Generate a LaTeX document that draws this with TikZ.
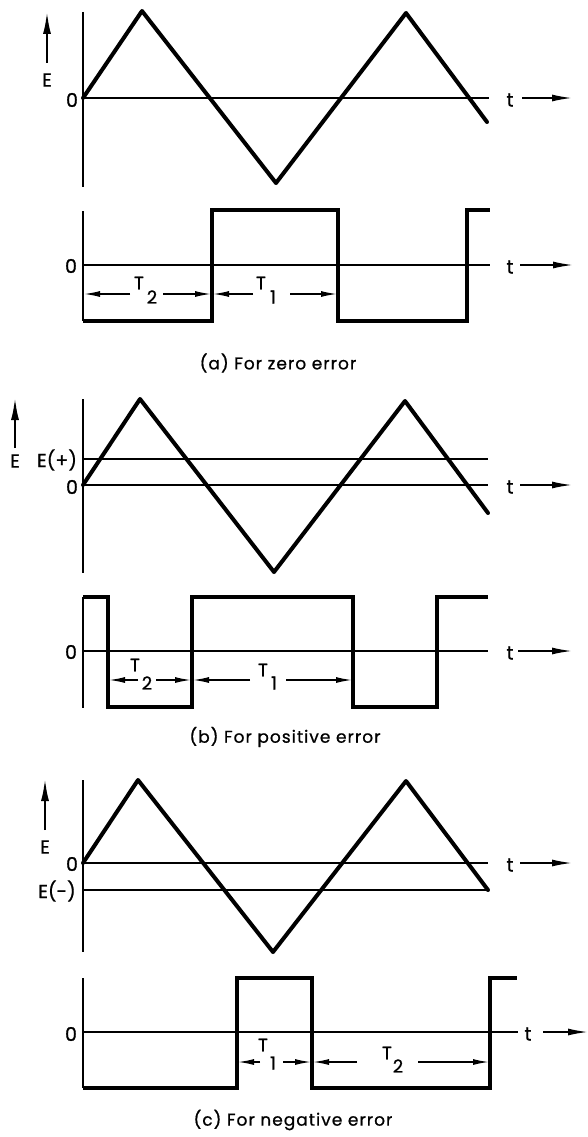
\documentclass[tikz,border=0pt]{standalone}
\usepackage{fontspec}
\setmainfont{Poppins}[FakeBold=0.8]
\usetikzlibrary{arrows.meta}
\begin{document}
\begin{tikzpicture}[x=1pt,y=-1pt,
  tri/.style={line width=4pt,line join=round,line cap=round},
  sq/.style={line width=3.2pt,line join=miter},
  axisline/.style={line width=2pt},
  refline/.style={line width=1.8pt},
  earrow/.style={line width=2pt,-{Latex[length=22pt,width=8pt]}},
  tarrow/.style={line width=1.6pt,-{Latex[length=20pt,width=7pt]}},
  dimarrow/.style={line width=1.4pt,-{Latex[length=16pt,width=6pt]}},
  lbl/.style={font=\fontsize{19}{19}\selectfont,inner sep=0pt},
  tlbl/.style={font=\fontsize{18}{18}\selectfont,inner sep=0pt},
  captext/.style={font=\fontsize{17}{17}\selectfont\addfontfeature{LetterSpace=6},inner sep=0pt}]
\useasboundingbox (0,0) rectangle (588,1137);

% ================= (a) =================
\draw[axisline] (83,12) -- (83,187);
\draw[refline] (83,98) -- (489,98);
\draw[tri] (83,98) -- (142,11) -- (276,183) -- (406,13) -- (487,122);
\node[lbl] (aE) at (47,80) {E};
\coordinate (aEb) at (47,63); \coordinate (aEt) at (47,12);
\draw[earrow] (aEb) -- (aEt);
\node[lbl] (a0) at (72,100) {0};
\node[lbl] (at) at (510,100) {t};
\coordinate (atb) at (522,98); \coordinate (ate) at (572,98);
\draw[tarrow] (atb) -- (ate);

\draw[axisline] (83,211) -- (83,321);
\draw[refline] (83,265) -- (490,265);
\draw[sq] (83,321) -- (212,321) -- (212,210) -- (338,210) -- (338,321) -- (467,321) -- (467,210) -- (490,210);
\node[lbl] (a0s) at (71,266) {0};
\node[lbl] (ats) at (510,267) {t};
\coordinate (atsb) at (520,265); \coordinate (atse) at (573,265);
\draw[tarrow] (atsb) -- (atse);
% dimension arrows
\node[tlbl] (aT2) at (139,283) {T};
\node[tlbl] (aT2n) at (152,297) {2};
\node[tlbl] (aT1) at (261,283) {T};
\node[tlbl] (aT1n) at (273,297) {1};
\coordinate (a1s) at (130,294); \coordinate (a1e) at (84,294);
\coordinate (a2s) at (163,294); \coordinate (a2e) at (211,294);
\coordinate (a3s) at (253,294); \coordinate (a3e) at (213,294);
\coordinate (a4s) at (290,294); \coordinate (a4e) at (337,294);
\draw[dimarrow] (a1s) -- (a1e);
\draw[dimarrow] (a2s) -- (a2e);
\draw[dimarrow] (a3s) -- (a3e);
\draw[dimarrow] (a4s) -- (a4e);
\node[captext] (acap) at (278,363) {(a) For zero error};

% ================= (b) =================
\draw[axisline] (83,399) -- (83,573);
\draw[refline] (83,459) -- (488,459);
\draw[refline] (83,485) -- (488,485);
\draw[tri] (83,485) -- (140,399) -- (274,572) -- (405,401) -- (488,513);
\node[lbl] (bE) at (15,461) {E};
\coordinate (bEb) at (15,448); \coordinate (bEt) at (15,398);
\draw[earrow] (bEb) -- (bEt);
\node[lbl] (bEp) at (57,460) {E(+)};
\node[lbl] (b0) at (72,487) {0};
\node[lbl] (bt) at (510,487) {t};
\coordinate (btb) at (520,485); \coordinate (bte) at (572,485);
\draw[tarrow] (btb) -- (bte);

\draw[axisline] (83,597) -- (83,708);
\draw[refline] (83,651) -- (488,651);
\draw[sq] (83,597) -- (108,597) -- (108,707) -- (192,707) -- (192,597) -- (353,597) -- (353,707) -- (437,707) -- (437,597) -- (488,597);
\node[lbl] (b0s) at (71,652) {0};
\node[lbl] (bts) at (510,653) {t};
\coordinate (btsb) at (518,651); \coordinate (btse) at (572,651);
\draw[tarrow] (btsb) -- (btse);
\node[tlbl] (bT2) at (135,665) {T};
\node[tlbl] (bT2n) at (147,683) {2};
\node[tlbl] (bT1) at (263,670) {T};
\node[tlbl] (bT1n) at (274,683) {1};
\coordinate (b1s) at (138,680); \coordinate (b1e) at (109,680);
\coordinate (b2s) at (156,680); \coordinate (b2e) at (191,680);
\coordinate (b3s) at (250,680); \coordinate (b3e) at (193,680);
\coordinate (b4s) at (286,680); \coordinate (b4e) at (352,680);
\draw[dimarrow] (b1s) -- (b1e);
\draw[dimarrow] (b2s) -- (b2e);
\draw[dimarrow] (b3s) -- (b3e);
\draw[dimarrow] (b4s) -- (b4e);
\node[captext] (bcap) at (285,737) {(b) For positive error};

% ================= (c) =================
\draw[axisline] (83,780) -- (83,952);
\draw[refline] (83,863) -- (488,863);
\draw[refline] (83,890) -- (488,890);
\draw[tri] (83,863) -- (138,780) -- (273,952) -- (406,781) -- (488,890);
\node[lbl] (cE) at (45,847) {E};
\coordinate (cEb) at (45,830); \coordinate (cEt) at (45,779);
\draw[earrow] (cEb) -- (cEt);
\node[lbl] (c0) at (72,864) {0};
\node[lbl] (cEm) at (57,891) {E(-)};
\node[lbl] (ct) at (510,865) {t};
\coordinate (ctb) at (520,863); \coordinate (cte) at (572,863);
\draw[tarrow] (ctb) -- (cte);

\draw[axisline] (83,978) -- (83,1088);
\draw[refline] (83,1032) -- (518,1032);
\draw[sq] (83,1088) -- (237,1088) -- (237,978) -- (312,978) -- (312,1088) -- (490,1088) -- (490,978) -- (517,978);
\node[lbl] (c0s) at (71,1034) {0};
\node[lbl] (cts) at (528,1034) {t};
\coordinate (ctsb) at (543,1032); \coordinate (ctse) at (588,1032);
\draw[tarrow] (ctsb) -- (ctse);
\node[tlbl] (cT1) at (263,1045) {T};
\node[tlbl] (cT1n) at (273,1063) {1};
\node[tlbl] (cT2) at (387,1053) {T};
\node[tlbl] (cT2n) at (398,1066) {2};
\coordinate (c1s) at (260,1062); \coordinate (c1e) at (238,1062);
\coordinate (c2s) at (283,1062); \coordinate (c2e) at (311,1062);
\coordinate (c3s) at (357,1062); \coordinate (c3e) at (313,1062);
\coordinate (c4s) at (418,1062); \coordinate (c4e) at (489,1062);
\draw[dimarrow] (c1s) -- (c1e);
\draw[dimarrow] (c2s) -- (c2e);
\draw[dimarrow] (c3s) -- (c3e);
\draw[dimarrow] (c4s) -- (c4e);
\node[captext] (ccap) at (293,1120) {(c) For negative error};
\end{tikzpicture}
\end{document}
